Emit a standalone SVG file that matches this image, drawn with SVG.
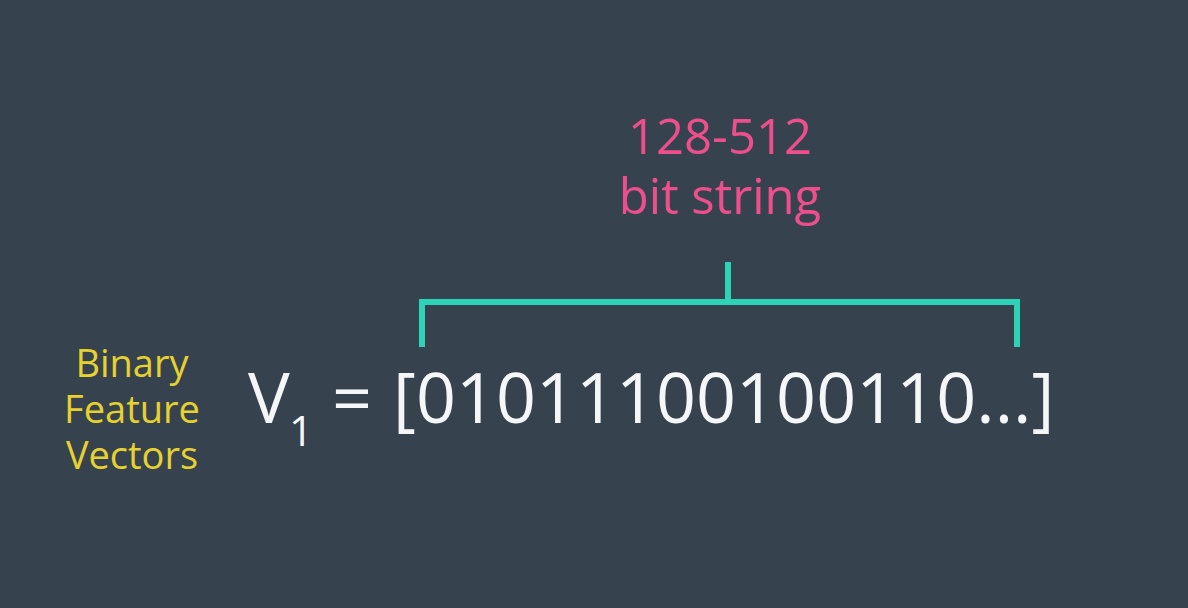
<svg xmlns="http://www.w3.org/2000/svg" width="1188" height="608" viewBox="0 0 1188 608">
<style>
.t{font-family:"Open Sans","Noto Sans","Liberation Sans",sans-serif}
.pink{fill:#ee4f8c;font-size:49px}
.yel{fill:#e6d12e;font-size:38px}
.wh{fill:#f4f6f8}
.br{fill:none;stroke:#2dd3b7;stroke-width:6;stroke-linecap:butt;stroke-linejoin:miter}
</style>
<rect width="1188" height="608" fill="#36434f"/>
<g id="label-bits">
<text class="t pink" x="720" y="154" text-anchor="middle">128-512</text>
<text class="t pink" x="720" y="214" text-anchor="middle">bit string</text>
</g>
<g id="label-binary">
<text class="t yel" x="132" y="377" text-anchor="middle">Binary</text>
<text class="t yel" x="132" y="423" text-anchor="middle">Feature</text>
<text class="t yel" x="132" y="469" text-anchor="middle">Vectors</text>
</g>
<g id="vector">
<text class="t wh" x="248" y="423" font-size="70">V</text>
<text class="t wh" x="289" y="446" font-size="42">1</text>
<text class="t wh" x="332" y="423" font-size="70">=</text>
<text class="t wh" x="393" y="423" font-size="70">[01011100100110...]</text>
</g>
<g id="connectors">
<path class="br" d="M422,347 V302 H1017 V347"/>
<path class="br" d="M728,262 V302"/>
</g>
</svg>
